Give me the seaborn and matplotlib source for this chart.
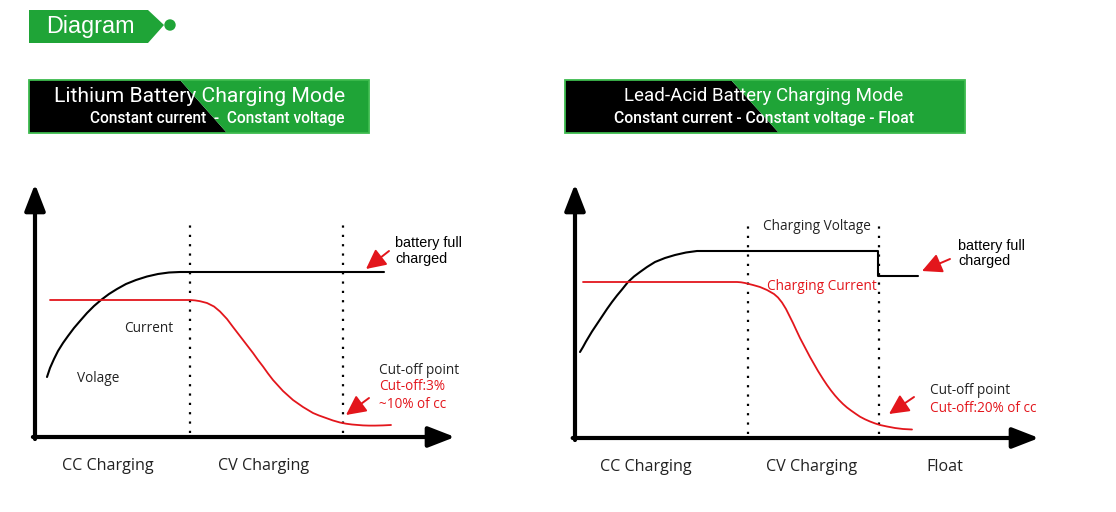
import numpy as np
import pandas as pd
import matplotlib.pyplot as plt
import seaborn as sns
from matplotlib.patches import Polygon, Circle

# ---- data (chart units: x = time, y = level) ----
li_volt_x = [12, 15, 19, 23, 28, 33, 39, 45, 52, 59, 66, 74, 82, 91, 101,
             112, 123, 134, 145, 349]
li_volt_y = [60, 69, 78, 86, 94, 101, 109, 116, 124, 131, 137, 143, 148, 153,
             157, 160.5, 163, 164.5, 165, 165]
li_curr_x = [15, 155, 160, 165, 172, 179, 185, 192, 198, 203, 208, 213, 218,
             223, 228, 233, 238, 243, 248, 253, 258, 263, 268, 273, 278, 284,
             291, 298, 305, 311, 317, 323, 328, 334, 340, 348, 356]
li_curr_y = [137, 137, 136.6, 135.8, 134, 130.5, 125.5, 118, 110, 103.5, 97,
             90.5, 84, 77, 70.5, 63.5, 57, 51.5, 46, 41.5, 37, 33.5, 30, 27,
             24, 21.5, 19, 16.5, 14.5, 13.3, 12.5, 12, 11.6, 11.4, 11.4, 11.6,
             12]
li_phase_x = [155, 308]
li_phases = ["CC Charging", "CV Charging"]

pb_volt_x = [5, 8, 11, 14, 17, 20, 24, 28, 32, 37, 42, 47, 53, 59, 65, 72,
             80, 90, 100, 111, 122, 303, 303, 343]
pb_volt_y = [86, 91, 96.5, 101.5, 106.5, 111, 117, 123, 129, 136, 142.5,
             148.5, 156, 161.5, 166, 171, 176, 180, 183, 185.5, 187, 187, 162,
             162]
pb_curr_x = [8, 162, 166, 170, 174, 178, 185, 192, 199, 203, 207, 211, 214,
             218, 221, 225, 230, 235, 239, 243, 248, 252, 256, 260, 264, 268,
             272, 276, 281, 285, 290, 295, 300, 305, 312, 320, 328, 337]
pb_curr_y = [156, 156, 155.7, 155, 154, 153, 151, 148, 144, 140.5, 135.5, 129,
             123, 115, 108.5, 100, 90.5, 81, 74, 67, 59, 53, 47.5, 42.5, 38,
             34, 30.5, 27.5, 24, 21.3, 18.7, 16.5, 14.6, 13, 11.5, 10, 9, 8.5]
pb_phase_x = [173, 304]
pb_phases = ["CC Charging", "CV Charging", "Float"]

GREEN = "#1fa437"
GREEN_EDGE = "#3dbb4e"
RED = "#e3161c"
W, H = 1116, 512

sns.set_theme(style="white")
plt.rcParams["font.family"] = ["Open Sans", "DejaVu Sans"]

fig = plt.figure(figsize=(W / 100, H / 100), dpi=100)
fig.patch.set_facecolor("white")

# background axes in pixel coordinates for decorations
bg = fig.add_axes([0, 0, 1, 1], zorder=0)
bg.set_xlim(0, W)
bg.set_ylim(H, 0)
bg.axis("off")

# "Diagram" tag
bg.add_patch(Polygon([(29, 10), (148, 10), (164, 25), (148, 43), (29, 43)],
                     closed=True, color=GREEN, lw=0))
bg.add_patch(Circle((170, 25), 5.7, color=GREEN, lw=0))
bg.text(46, 26, "Diagram", color="white", fontsize=16.8, va="center",
        ha="left", family=["Liberation Sans"])


def title_box(x0, x1, dtop, dbot, title, sub, ha, tx, tsize, ssize):
    y0, y1 = 80, 133
    bg.add_patch(Polygon([(x0, y0), (dtop, y0), (dbot, y1), (x0, y1)],
                         closed=True, color="black", lw=0))
    bg.add_patch(Polygon([(dtop, y0), (x1, y0), (x1, y1), (dbot, y1)],
                         closed=True, color=GREEN, lw=0))
    bg.add_patch(Polygon([(x0, y0), (x1, y0), (x1, y1), (x0, y1)],
                         closed=True, fill=False, ec=GREEN_EDGE, lw=1.3))
    bg.text(tx, 96, title, color="white", fontsize=tsize, ha=ha, va="center",
            family=["Roboto"])
    bg.text(tx, 118, sub, color="white", fontsize=ssize, ha=ha, va="center",
            family=["Roboto"], fontweight="medium")


title_box(29, 369, 180, 227, "Lithium Battery Charging Mode",
          "Constant current  -  Constant voltage", "right", 345, 15.2, 11.2)
title_box(565, 965, 731, 779, "Lead-Acid Battery Charging Mode",
          "Constant current - Constant voltage - Float", "center", 764,
          13.5, 11.3)


def chart(x0, y0, x1, y1, vx, vy, cx, cy, phase_x):
    ax = fig.add_axes([x0 / W, (H - y0) / H, (x1 - x0) / W, (y0 - y1) / H],
                      zorder=1)
    ax.patch.set_alpha(0)
    ax.set_xlim(0, x1 - x0)
    ax.set_ylim(0, y0 - y1)
    sns.despine(ax=ax, left=True, bottom=True)
    ax.set_xticks([])
    ax.set_yticks([])
    head = dict(arrowstyle="-|>,head_length=0.9,head_width=0.35",
                color="black", lw=3.0, mutation_scale=18, shrinkA=0,
                shrinkB=0)
    ax.annotate("", xy=(0, 1), xytext=(0, -0.008), xycoords="axes fraction",
                arrowprops=head, annotation_clip=False)
    ax.annotate("", xy=(1, 0), xytext=(-0.005, 0), xycoords="axes fraction",
                arrowprops=head, annotation_clip=False)
    for px in phase_x:
        ax.vlines(px, 4, 215, colors="black", linestyles=(0, (1, 3.2)), lw=1.6)
    vdf = pd.DataFrame({"t": vx, "v": vy})
    cdf = pd.DataFrame({"t": cx, "v": cy})
    sns.lineplot(data=vdf, x="t", y="v", ax=ax, color="black", lw=1.5,
                 sort=False, estimator=None)
    sns.lineplot(data=cdf, x="t", y="v", ax=ax, color=RED, lw=1.3,
                 sort=False, estimator=None)
    ax.set_xlabel("")
    ax.set_ylabel("")
    return ax


chart(35, 437, 455, 184, li_volt_x, li_volt_y, li_curr_x, li_curr_y, li_phase_x)
chart(575, 438, 1039, 184, pb_volt_x, pb_volt_y, pb_curr_x, pb_curr_y, pb_phase_x)

# phase labels under each chart
for lbl, xp in zip(li_phases, [62, 218]):
    bg.text(xp, 466, lbl, fontsize=11.6, color="#222222", ha="left", va="center")
for lbl, xp in zip(pb_phases, [600, 766, 926]):
    bg.text(xp, 467, lbl, fontsize=11.6, color="#222222", ha="left", va="center")

small = dict(fontsize=9.8, ha="left", va="center")
arial = dict(fontsize=10.4, ha="left", va="center", family=["Liberation Sans"])

# left chart notes
bg.text(124, 328, "Current", color="#222222", **small)
bg.text(77, 378, "Volage", color="#222222", **small)
bg.text(395, 243, "battery full", color="black", **arial)
bg.text(395, 259, "charged", color="black", **arial)
bg.text(379, 370, "Cut-off point", color="#222222", **small)
bg.text(379, 387, "Cut-off:3%", color=RED, **small)
bg.text(379, 404, "~10% of cc", color=RED, **small)

# right chart notes
bg.text(763, 227, "Charging Voltage", color="#222222", **small)
bg.text(767, 287, "Charging Current", color=RED, **small)
bg.text(958, 246, "battery full", color="black", **arial)
bg.text(958, 261, "charged", color="black", **arial)
bg.text(930, 390, "Cut-off point", color="#222222", **small)
bg.text(930, 408, "Cut-off:20% of cc", color=RED, **small)

arrow_kw = dict(arrowstyle="-|>,head_length=0.8,head_width=0.4", color=RED,
                lw=1.4, mutation_scale=15, shrinkA=0, shrinkB=0)
for tip, tail in [((366, 269), (389, 251)), ((346, 415), (369, 398)),
                  ((922, 271), (950, 259)), ((889, 414), (914, 397))]:
    bg.annotate("", xy=tip, xytext=tail, arrowprops=arrow_kw)

fig.savefig("out.png", dpi=100, facecolor="white")
